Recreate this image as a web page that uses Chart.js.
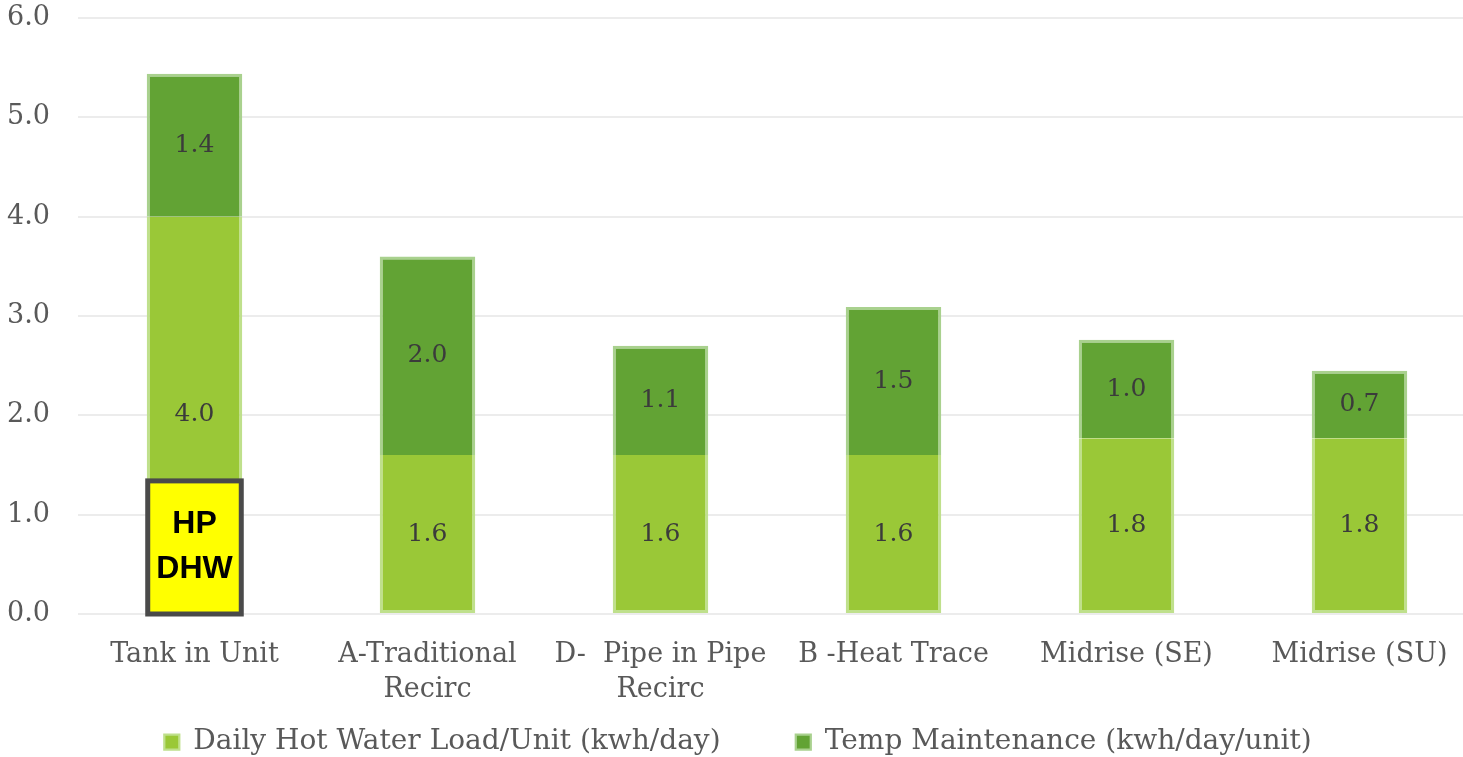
<!DOCTYPE html>
<html>
<head>
<meta charset="utf-8">
<script src="https://cdn.jsdelivr.net/npm/chart.js@4"></script>
<style>
  html, body { margin: 0; padding: 0; background: #fff; overflow: hidden; }
  #wrap { position: absolute; left: 0; top: 0; width: 1476px; height: 766px; }
</style>
</head>
<body>
<div id="wrap"><canvas id="chart"></canvas></div>
<script>
const categories = [
    'Tank in Unit',
    ['A-Traditional', 'Recirc'],
    ['D-  Pipe in Pipe', 'Recirc'],
    'B -Heat Trace',
    'Midrise (SE)',
    'Midrise (SU)'
]
const seriesNames = ['Daily Hot Water Load/Unit (kwh/day)', 'Temp Maintenance (kwh/day/unit)']
const dailyLoad = [4.0, 1.6, 1.6, 1.6, 1.77, 1.77]
const tempMaintenance = [1.44, 2.0, 1.1, 1.49, 0.99, 0.68]
const yTicks = [0, 1, 2, 3, 4, 5, 6]

// yellow callout over the first bar (value units on the y axis)
const calloutTop = 1.34
const calloutLines = ['HP', 'DHW']

const textColor = '#595959'
const serif = "'DejaVu Serif', serif"

const valueLabels = {
    id: 'valueLabels',
    afterDatasetsDraw(chart) {
        const ctx = chart.ctx
        ctx.save()
        ctx.font = `25px ${serif}`
        ctx.fillStyle = '#3b3b3b'
        ctx.textAlign = 'center'
        ctx.textBaseline = 'middle'
        chart.data.datasets.forEach((ds, i) => {
            chart.getDatasetMeta(i).data.forEach((bar, j) => {
                const { x, y, base } = bar.getProps(['x', 'y', 'base'], true)
                ctx.fillText(ds.data[j].toFixed(1), x, (y + base) / 2)
            })
        })
        ctx.restore()
    }
}

const callout = {
    id: 'callout',
    afterDraw(chart) {
        const ctx = chart.ctx
        const bar = chart.getDatasetMeta(0).data[0]
        const { x, width } = bar.getProps(['x', 'width'], true)
        const yScale = chart.scales.y
        const top = yScale.getPixelForValue(calloutTop)
        const bottom = yScale.getPixelForValue(0)
        const left = x - width / 2 + 1
        const w = width - 2
        ctx.save()
        ctx.fillStyle = '#ffff00'
        ctx.fillRect(left, top, w, bottom - top)
        ctx.lineWidth = 5
        ctx.strokeStyle = '#4a4a4a'
        ctx.strokeRect(left, top, w, bottom - top)
        ctx.fillStyle = '#000'
        ctx.font = "bold 32px 'Liberation Sans', sans-serif"
        ctx.textAlign = 'center'
        ctx.textBaseline = 'middle'
        const mid = (top + bottom) / 2
        ctx.fillText(calloutLines[0], x, mid - 23)
        ctx.fillText(calloutLines[1], x, mid + 22)
        ctx.restore()
    }
}

new Chart(document.getElementById('chart'), {
    type: 'bar',
    data: {
        labels: categories,
        datasets: [
            {
                label: seriesNames[0],
                data: dailyLoad,
                backgroundColor: '#9ac837',
                borderColor: '#bfe08c',
                borderWidth: { top: 0, left: 3, right: 3, bottom: 3 },
                borderSkipped: false
            },
            {
                label: seriesNames[1],
                data: tempMaintenance,
                backgroundColor: '#62a334',
                borderColor: '#a9d18e',
                borderWidth: { top: 3, left: 3, right: 3, bottom: 0 },
                borderSkipped: false
            }
        ]
    },
    options: {
        responsive: true,
        maintainAspectRatio: false,
        animation: false,
        layout: { padding: { top: 18 } },
        datasets: {
            bar: { categoryPercentage: 1, barPercentage: 0.41 }
        },
        plugins: {
            legend: {
                position: 'bottom',
                labels: {
                    boxWidth: 15,
                    boxHeight: 15,
                    padding: 4,
                    color: textColor,
                    font: { family: serif, size: 28 },
                    // widen the gap between the two entries
                    generateLabels(chart) {
                        const items = Chart.defaults.plugins.legend.labels.generateLabels(chart)
                        items[0].text += ' '.repeat(8)
                        return items
                    }
                }
            },
            tooltip: { enabled: false }
        },
        scales: {
            x: {
                stacked: true,
                grid: { display: false },
                border: { display: false },
                ticks: {
                    color: textColor,
                    font: { family: serif, size: 27, lineHeight: 1.3 },
                    padding: 15,
                    maxRotation: 0,
                    autoSkip: false
                },
                afterFit(scale) { scale.height = 110 }
            },
            y: {
                stacked: true,
                min: 0,
                max: 6,
                afterBuildTicks(scale) { scale.ticks = yTicks.map(v => ({ value: v })) },
                grid: { color: '#ececec', lineWidth: 2, drawTicks: false },
                border: { display: false },
                ticks: {
                    color: textColor,
                    font: { family: serif, size: 27 },
                    padding: 28,
                    callback: v => v.toFixed(1)
                },
                afterFit(scale) {
                    scale.width = 78
                    scale.paddingTop = 0
                    scale.paddingBottom = 0
                }
            }
        }
    },
    plugins: [valueLabels, callout]
})
</script>
</body>
</html>
